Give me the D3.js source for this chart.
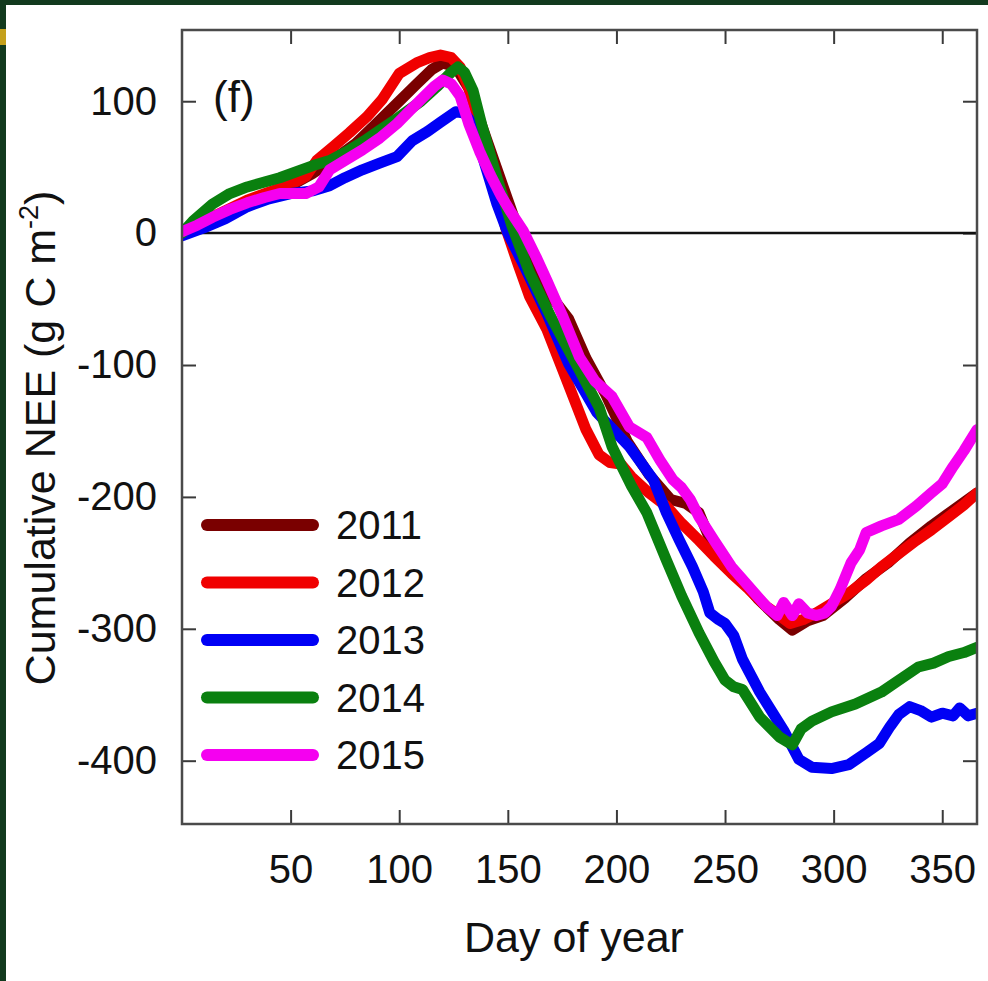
<!DOCTYPE html>
<!-- Cumulative NEE by day of year, panel (f) -->
<html lang="en">
    <head>
        <meta charset="UTF-8">
        <script src="https://cdn.jsdelivr.net/npm/d3@7"></script>
        <style>
            body {
                margin: 0;
                background: #fff;
            }
            text {
                font-family: "Liberation Sans", Arial, sans-serif;
                fill: #111;
            }
            .frame {
                fill: none;
                stroke: #4a4a4a;
                stroke-width: 2.5px;
            }
            .axis path {
                display: none;
            }
            .axis line {
                stroke: #3a3a3a;
                stroke-width: 2px;
            }
            .axis text {
                font-size: 40px;
            }
            .zero {
                stroke: #111;
                stroke-width: 2.5px;
            }
            .series {
                fill: none;
                stroke-width: 11px;
                stroke-linejoin: round;
                stroke-linecap: round;
            }
        </style>
    </head>
<body>
    <script>
        /* Years shown in the legend */
        var years = ['2011', '2012', '2013', '2014', '2015'];

        /* Tick labels */
        var xTicks = [50, 100, 150, 200, 250, 300, 350];
        var yTicks = [100, 0, -100, -200, -300, -400];

        /* 2011 */
        var day2011 = [0, 10, 20, 30, 40, 50, 60, 70, 80, 90, 100, 108, 115, 120, 126, 132, 140, 150, 160, 170, 178,
                       186, 195, 205, 215, 225, 232, 238, 245, 255, 265, 275, 281, 288, 295, 305, 315, 325, 335, 345, 355, 366];
        var nee2011 = [0, 8, 16, 24, 30, 36, 45, 56, 68, 84, 100, 113, 124, 129, 126, 110, 72, 25, -22, -48, -65,
                       -95, -122, -158, -183, -202, -205, -212, -240, -258, -277, -293, -301, -294, -290, -277, -262, -250, -235, -222, -210, -197];

        /* 2012 */
        var day2012 = [0, 10, 20, 30, 40, 50, 57, 62, 70, 77, 85, 92, 100, 108, 114, 119, 124, 128, 132, 136, 140, 145,
                       149, 155, 160, 168, 177, 186, 192, 197, 202, 207, 215, 223, 230, 238, 245, 253, 261, 269, 275, 280,
                       286, 292, 300, 307, 315, 322, 330, 338, 345, 353, 360, 366];
        var nee2012 = [0, 9, 17, 25, 31, 37, 43, 55, 66, 76, 88, 101, 121, 129, 133, 135, 133, 126, 110, 88, 62, 33,
                       4, -25, -48, -73, -111, -149, -168, -174, -175, -185, -197, -207, -220, -233, -245, -258, -270, -283, -290, -296,
                       -293, -288, -280, -273, -263, -253, -243, -233, -225, -215, -206, -197];

        /* 2013 */
        var day2013 = [0, 10, 20, 30, 40, 50, 60, 68, 75, 83, 91, 99, 106, 113, 119, 126, 130, 134, 138, 145, 150, 157,
                       168, 178, 191, 206, 217, 223, 229, 235, 240, 243, 247, 250, 254, 258, 266, 277, 284, 290, 299, 307,
                       315, 321, 326, 330, 335, 340, 345, 350, 355, 358, 362, 366];
        var nee2013 = [-2, 4, 11, 20, 26, 30, 32, 36, 42, 48, 53, 58, 70, 77, 84, 92, 91, 82, 60, 22, 0, -23,
                       -61, -99, -136, -162, -187, -212, -233, -253, -272, -288, -293, -296, -305, -323, -348, -377, -399, -405, -406, -403,
                       -394, -387, -374, -365, -359, -362, -367, -364, -366, -360, -366, -364];

        /* 2014 */
        var day2014 = [0, 5, 14, 22, 30, 45, 60, 68, 76, 84, 91, 100, 110, 118, 124, 127, 130, 134, 138, 145, 152, 160,
                       170, 183, 192, 198, 207, 214, 223, 230, 238, 245, 250, 254, 258, 266, 275, 281, 285, 290, 299, 310,
                       322, 330, 339, 346, 353, 360, 366];
        var nee2014 = [0, 9, 22, 30, 35, 42, 51, 55, 62, 70, 78, 88, 100, 112, 122, 126, 122, 108, 82, 42, 5, -30,
                       -64, -104, -132, -162, -192, -212, -248, -275, -303, -325, -339, -344, -346, -367, -382, -388, -376, -370, -363, -357,
                       -348, -339, -329, -326, -321, -318, -314];

        /* 2015 */
        var day2015 = [0, 7, 14, 22, 30, 38, 45, 52, 57, 63, 68, 75, 83, 91, 99, 105, 111, 116, 120, 124, 128, 132,
                       137, 142, 147, 151, 157, 163, 168, 175, 183, 190, 198, 206, 214, 220, 226, 230, 234, 238, 245, 253,
                       261, 269, 274, 277, 281, 284, 288, 292, 296, 299, 303, 308, 312, 315, 322, 330, 338, 345, 350, 355,
                       360, 366];
        var nee2015 = [1, 6, 12, 18, 23, 27, 30, 30, 30, 35, 48, 55, 63, 72, 83, 93, 103, 111, 116, 113, 104, 83,
                       62, 44, 28, 17, 2, -18, -36, -62, -94, -112, -124, -147, -155, -172, -187, -193, -202, -215, -233, -253,
                       -268, -283, -290, -280, -290, -281, -288, -290, -288, -283, -270, -250, -240, -227, -222, -217, -207, -197, -190, -177,
                       -165, -149];

        var days = [day2011, day2012, day2013, day2014, day2015];
        var nees = [nee2011, nee2012, nee2013, nee2014, nee2015];

        /* Line colours, one per year */
        var colours = ['#7a0000', '#f00000', '#0000f5', '#0a800f', '#f500f0'];

        /* Canvas and plot box (names avoid window.top) */
        var width = 988,
            height = 981;
        var pLeft = 182, pRight = 977, pTop = 30, pBottom = 824;

        var svg = d3.select('body').append('svg')
            .attr('width', width)
            .attr('height', height);

        /* Dark border strips from the screenshot */
        svg.append('rect').attr('x', 0).attr('y', 0).attr('width', width).attr('height', 5).attr('fill', '#123a1e');
        svg.append('rect').attr('x', 0).attr('y', 0).attr('width', 6).attr('height', height).attr('fill', '#123a1e');
        svg.append('rect').attr('x', 0).attr('y', 29).attr('width', 6).attr('height', 16).attr('fill', '#c4a01c');

        /* Scales */
        var x = d3.scaleLinear().domain([0, 366]).range([pLeft, pRight]);
        var y = d3.scaleLinear().domain([-448, 154]).range([pBottom, pTop]);

        svg.append('defs').append('clipPath').attr('id', 'plot')
            .append('rect')
            .attr('x', pLeft).attr('y', pTop)
            .attr('width', pRight - pLeft).attr('height', pBottom - pTop);

        /* Axes, ticks pointing inwards on all four sides */
        svg.append('g').attr('class', 'axis')
            .attr('transform', 'translate(0,' + pBottom + ')')
            .call(d3.axisBottom(x).tickValues(xTicks).tickSize(-14).tickPadding(31));

        svg.append('g').attr('class', 'axis')
            .attr('transform', 'translate(0,' + pTop + ')')
            .call(d3.axisTop(x).tickValues(xTicks).tickSize(-14).tickFormat(''));

        // plain hyphen for negatives, as in the original
        svg.append('g').attr('class', 'axis')
            .attr('transform', 'translate(' + pLeft + ',0)')
            .call(d3.axisLeft(y).tickValues(yTicks).tickSize(-14).tickPadding(25)
                .tickFormat(function(d) { return String(d); }));

        svg.append('g').attr('class', 'axis')
            .attr('transform', 'translate(' + pRight + ',0)')
            .call(d3.axisRight(y).tickValues(yTicks).tickSize(-14).tickFormat(''));

        // zero line
        svg.append('line').attr('class', 'zero')
            .attr('x1', pLeft).attr('x2', pRight)
            .attr('y1', y(0)).attr('y2', y(0));

        /* Series lines */
        var line = d3.line()
            .x(function(d) { return x(d[0]); })
            .y(function(d) { return y(d[1]); });

        svg.append('g').attr('clip-path', 'url(#plot)')
            .selectAll('path')
            .data(years)
            .enter().append('path')
            .attr('class', 'series')
            .attr('stroke', function(d, i) { return colours[i]; })
            .attr('d', function(d, i) {
                return line(d3.zip(days[i], nees[i]));
            });

        /* Frame */
        svg.append('rect').attr('class', 'frame')
            .attr('x', pLeft).attr('y', pTop)
            .attr('width', pRight - pLeft).attr('height', pBottom - pTop);

        /* Panel label */
        svg.append('text')
            .attr('x', 213).attr('y', 112)
            .style('font-size', '44px')
            .text('(f)');

        /* Legend */
        var legend = svg.append('g').selectAll('g')
            .data(years)
            .enter().append('g')
            .attr('transform', function(d, i) { return 'translate(0,' + (525 + i * 57.5) + ')'; });

        legend.append('line')
            .attr('x1', 207).attr('x2', 313)
            .attr('stroke', function(d, i) { return colours[i]; })
            .attr('stroke-width', 12)
            .attr('stroke-linecap', 'round');

        legend.append('text')
            .attr('x', 336).attr('dy', '0.36em')
            .style('font-size', '40px')
            .text(function(d) { return d; });

        /* Axis titles */
        svg.append('text')
            .attr('x', 574).attr('y', 952)
            .attr('text-anchor', 'middle')
            .style('font-size', '43px')
            .text('Day of year');

        var ytitle = svg.append('text')
            .attr('transform', 'translate(55,438) rotate(-90)')
            .attr('text-anchor', 'middle')
            .style('font-size', '43px');
        ytitle.append('tspan').text('Cumulative NEE (g C m');
        ytitle.append('tspan').attr('dy', -17).style('font-size', '27px').text('-2');
        ytitle.append('tspan').attr('dy', 17).text(')');
    </script>
</body>
</html>
